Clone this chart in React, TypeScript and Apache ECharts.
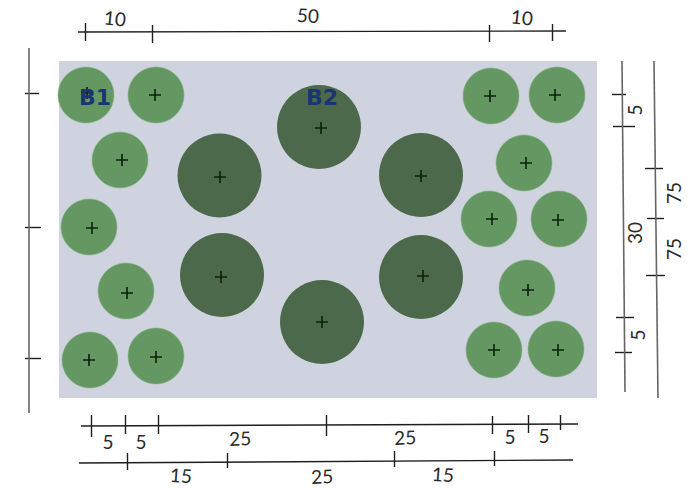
import React, { useEffect, useRef } from "react";
import * as echarts from "echarts";

const WIDTH = 693;
const HEIGHT = 489;

const planting: number[][] = [[59, 61], [597, 398]];

const smallTrees = [
  [86, 95], [156, 95], [120, 160], [89, 227], [126, 291], [90, 360], [156, 356],
  [491, 96], [557, 95], [524, 163], [489, 219], [559, 219], [527, 288], [494, 350], [556, 349],
];
const largeTrees = [
  [219.5, 175.5], [222, 275], [319, 127], [322, 322], [421, 175], [421, 277],
];
const plantMarks = [
  [87, 93], [155, 95], [122, 160], [92, 228], [127, 293], [89, 360], [156, 357],
  [490, 96], [555, 95], [526, 163], [492, 219], [558, 220], [528, 290], [494, 350], [558, 350],
  [220, 177], [221, 277], [321, 128], [322, 322], [421, 176], [423, 276],
];

const darkLines: number[][][] = [
  [[78, 32], [566, 31]],
  [[85, 23], [85, 41]], [[152, 25], [152, 43]], [[489, 25], [489, 42]], [[552, 24], [552, 41]],
  [[81, 426], [578, 424]],
  [[91, 415], [91, 437]], [[125, 415], [125, 434]], [[158, 415], [158, 434]], [[326, 415], [326, 436]],
  [[492, 416], [492, 434]], [[528, 415], [528, 433]], [[560, 415], [560, 430]],
  [[79, 463], [573, 460]],
  [[127, 453], [127, 470]], [[227, 453], [227, 468]], [[394, 451], [394, 467]], [[494, 451], [494, 466]],
  [[25, 93], [39, 93]], [[25, 227], [41, 227]], [[25, 358], [41, 358]],
  [[612, 94], [626, 94]], [[613, 126], [635, 126]], [[616, 317], [634, 317]], [[615, 352], [632, 352]],
  [[645, 168], [663, 168]], [[647, 218], [664, 218]], [[646, 275], [665, 275]],
];
const greyLines: number[][][] = [
  [[29, 48], [29, 413]],
  [[622, 61], [625, 392]],
  [[654, 61], [658, 398]],
];

const dimensionLabels: [number, number, string, number][] = [
  [115, 18, "10", -6], [308, 15, "50", -4], [522, 17, "10", -6],
  [108, 441, "5", 0], [141, 441, "5", 0], [240, 438, "25", 3], [405, 437, "25", 3],
  [510, 436, "5", 0], [544, 435, "5", 0],
  [181, 475, "15", -4], [322, 476, "25", 3], [443, 474, "15", -4],
  [634, 110, "5", 90], [634, 233, "30", 90], [637, 335, "5", 90],
  [673, 193, "75", 90], [673, 249, "75", 90],
];
const speciesLabels: [number, number, string][] = [
  [95, 97, "B1"], [322, 97, "B2"],
];

const PLUS = "path://M5.2 0h1.6v5.2H12v1.6H6.8V12H5.2V6.8H0V5.2h5.2z";

export default function App() {
  const ref = useRef<HTMLDivElement>(null);
  useEffect(() => {
    document.body.style.margin = "0";
    const chart = echarts.init(ref.current!, null, { renderer: "svg" });
    chart.setOption({
      animation: false,
      backgroundColor: "#ffffff",
      grid: { left: 0, right: 0, top: 0, bottom: 0 },
      xAxis: { type: "value", min: 0, max: WIDTH, show: false },
      yAxis: { type: "value", min: 0, max: HEIGHT, inverse: true, show: false },
      series: [
        {
          type: "scatter",
          z: 1,
          data: [],
          markArea: {
            silent: true,
            itemStyle: { color: "#cfd3df", opacity: 1 },
            data: [[{ coord: planting[0] }, { coord: planting[1] }]],
          },
        },
        {
          type: "lines",
          coordinateSystem: "cartesian2d",
          z: 2,
          lineStyle: { color: "#1e1e1e", width: 1.4, opacity: 1 },
          data: darkLines.map((coords) => ({ coords })),
        },
        {
          type: "lines",
          coordinateSystem: "cartesian2d",
          z: 2,
          lineStyle: { color: "#666666", width: 1.6, opacity: 1 },
          data: greyLines.map((coords) => ({ coords })),
        },
        {
          type: "scatter",
          z: 3,
          symbolSize: 56,
          itemStyle: { color: "#659763", borderColor: "#86b384", borderWidth: 0.6, opacity: 1 },
          data: smallTrees,
        },
        {
          type: "scatter",
          z: 3,
          symbolSize: 84,
          itemStyle: { color: "#4c694c", opacity: 1 },
          data: largeTrees,
        },
        {
          type: "scatter",
          z: 4,
          symbol: PLUS,
          symbolSize: 12,
          itemStyle: { color: "#0c200b", opacity: 1 },
          data: plantMarks,
        },
        {
          type: "scatter",
          z: 5,
          symbolSize: 0,
          itemStyle: { opacity: 1 },
          data: dimensionLabels.map(([x, y, text, rotate]) => ({
            value: [x, y],
            label: {
              show: true,
              position: "inside",
              formatter: text,
              rotate,
              fontFamily: "Lato",
              fontSize: 19,
              color: "#2a2a2a",
            },
          })),
        },
        {
          type: "scatter",
          z: 6,
          symbolSize: 0,
          itemStyle: { opacity: 1 },
          data: speciesLabels.map(([x, y, text]) => ({
            value: [x, y],
            label: {
              show: true,
              position: "inside",
              formatter: text,
              fontFamily: "DejaVu Sans",
              fontWeight: "bold",
              fontSize: 22,
              color: "#1a3572",
            },
          })),
        },
      ],
    });
    return () => chart.dispose();
  }, []);
  return <div ref={ref} style={{ width: WIDTH, height: HEIGHT }} />;
}
